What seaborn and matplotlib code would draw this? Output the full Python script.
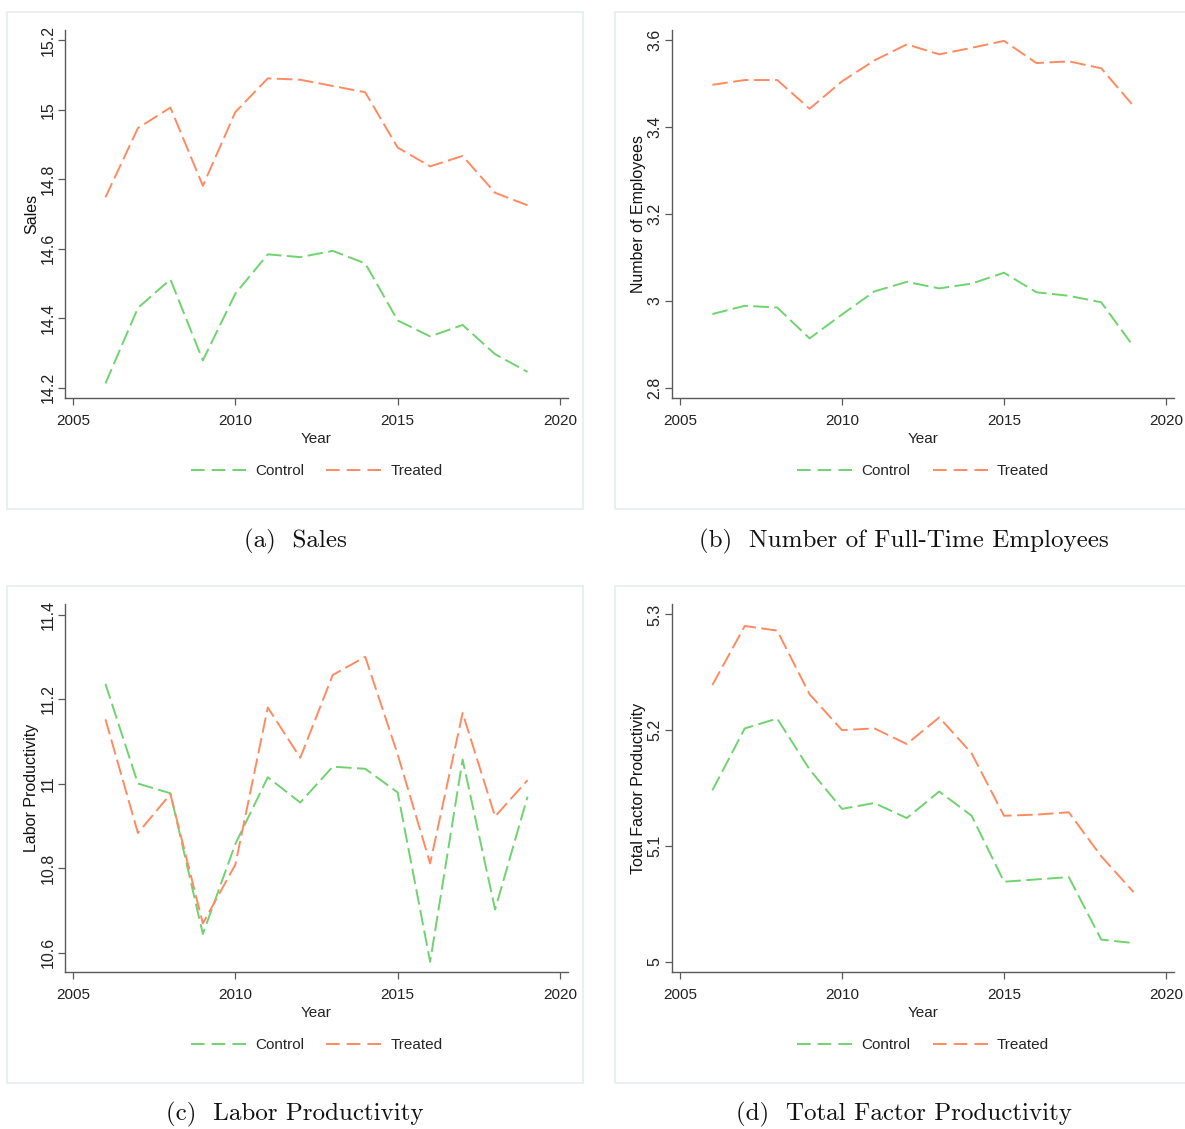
import numpy as np
import pandas as pd
import matplotlib
matplotlib.use("Agg")
import matplotlib.pyplot as plt
import seaborn as sns
from matplotlib.patches import Rectangle
from matplotlib.ticker import FuncFormatter

years = list(range(2006, 2020))
groups = ["Control", "Treated"]

sales_control = [14.213, 14.430, 14.512, 14.279, 14.471, 14.584, 14.576, 14.594, 14.558, 14.394, 14.348, 14.381, 14.297, 14.246]
sales_treated = [14.748, 14.947, 15.006, 14.781, 14.993, 15.090, 15.086, 15.068, 15.050, 14.891, 14.837, 14.867, 14.761, 14.725]

emp_control = [2.970, 2.989, 2.985, 2.914, 2.969, 3.022, 3.044, 3.029, 3.040, 3.065, 3.020, 3.012, 2.997, 2.895]
emp_treated = [3.497, 3.508, 3.508, 3.442, 3.505, 3.553, 3.590, 3.567, 3.582, 3.598, 3.547, 3.551, 3.535, 3.448]

lp_control = [11.236, 11.000, 10.977, 10.644, 10.857, 11.015, 10.955, 11.040, 11.035, 10.979, 10.578, 11.057, 10.702, 10.969]
lp_treated = [11.152, 10.883, 10.975, 10.669, 10.808, 11.180, 11.061, 11.257, 11.300, 11.069, 10.811, 11.167, 10.922, 11.008]

tfp_control = [5.148, 5.2015, 5.210, 5.166, 5.132, 5.137, 5.124, 5.147, 5.126, 5.069, 5.071, 5.073, 5.019, 5.016]
tfp_treated = [5.239, 5.290, 5.286, 5.231, 5.200, 5.2015, 5.188, 5.211, 5.180, 5.126, 5.127, 5.129, 5.091, 5.060]

y_labels = ["Sales", "Number of Employees", "Labor Productivity", "Total Factor Productivity"]
captions = ["(a)  Sales", "(b)  Number of Full-Time Employees", "(c)  Labor Productivity", "(d)  Total Factor Productivity"]
y_ticks = [[14.2, 14.4, 14.6, 14.8, 15.0, 15.2],
           [2.8, 3.0, 3.2, 3.4, 3.6],
           [10.6, 10.8, 11.0, 11.2, 11.4],
           [5.0, 5.1, 5.2, 5.3]]
y_lims = [(14.171, 15.229), (2.777, 3.623), (10.554, 11.425), (4.991, 5.309)]
x_ticks = [2005, 2010, 2015, 2020]

series = [(sales_control, sales_treated), (emp_control, emp_treated),
          (lp_control, lp_treated), (tfp_control, tfp_treated)]

sns.set_theme(style="white")
plt.rcParams["font.family"] = ["Liberation Sans", "DejaVu Sans"]

W, H = 1185, 1129
fig = plt.figure(figsize=(W / 100, H / 100), dpi=100)
fig.patch.set_facecolor("white")

palette = {"Control": "#6fd36f", "Treated": "#ff8a62"}

# pixel layout: (axes left, axes right, axes top, axes bottom, box left, box right, box top, box bottom, caption y)
layouts = [
    (65, 568, 30, 398, 7, 583, 12, 509, 541),
    (672, 1174, 30, 398, 615, 1192, 12, 509, 541),
    (65, 568, 604, 972, 7, 583, 586, 1083, 1114),
    (672, 1174, 604, 972, 615, 1192, 586, 1083, 1114),
]

for i, (lay, (ctrl, trt)) in enumerate(zip(layouts, series)):
    axl, axr, axt, axb, bl, br, bt, bb, cy = lay
    # panel border box
    fig.patches.append(Rectangle((bl / W, 1 - bb / H), (br - bl) / W, (bb - bt) / H,
                                 transform=fig.transFigure, fill=False,
                                 edgecolor="#e6ecef", linewidth=1.2, zorder=0))
    ax = fig.add_axes([axl / W, 1 - axb / H, (axr - axl) / W, (axb - axt) / H])
    df = pd.DataFrame({
        "Year": years * 2,
        "value": list(ctrl) + list(trt),
        "Group": ["Control"] * len(years) + ["Treated"] * len(years),
    })
    sns.lineplot(data=df, x="Year", y="value", hue="Group", style="Group",
                 hue_order=groups, style_order=groups, palette=palette,
                 dashes={"Control": (8, 2.8), "Treated": (8, 2.8)},
                 linewidth=1.4, ax=ax, legend=True)
    handles, labels = ax.get_legend_handles_labels()
    ax.get_legend().remove()
    leg = ax.legend(handles, labels, loc="center", bbox_to_anchor=(0.5, -0.198),
                    ncol=2, frameon=False, fontsize=11, handlelength=3.6,
                    handletextpad=0.6, columnspacing=1.45)
    for h in leg.get_lines():
        h.set_linewidth(1.4)
        h.set_dashes((7, 3.65))

    ax.set_xlim(2004.754, 2020.246)
    ax.set_ylim(*y_lims[i])
    ax.set_xticks(x_ticks)
    ax.set_yticks(y_ticks[i])
    ax.yaxis.set_major_formatter(FuncFormatter(lambda v, p: "%g" % round(v, 2)))
    for s in ["top", "right"]:
        ax.spines[s].set_visible(False)
    for s in ["left", "bottom"]:
        ax.spines[s].set_color("#5a5a5a")
        ax.spines[s].set_linewidth(1.0)
    ax.tick_params(axis="both", direction="out", length=5, width=0.9, color="#5a5a5a",
                   labelcolor="#222222", left=True, bottom=True)
    ax.tick_params(axis="x", labelsize=11, pad=6.5)
    ax.tick_params(axis="y", labelsize=11.5, labelrotation=90, pad=2)
    for t in ax.get_yticklabels():
        t.set_va("center")
    ax.set_xlabel("Year", fontsize=11, color="#222222", labelpad=3)
    ax.set_ylabel(y_labels[i], fontsize=11.5, color="#111111", labelpad=1)
    ax.set_facecolor("white")

    fig.text(((bl + br) / 2) / W, 1 - cy / H, captions[i], ha="center", va="center",
             fontsize=18, family=["cmr10", "DejaVu Serif"], color="#111111")

fig.savefig("out.png", dpi=100)
